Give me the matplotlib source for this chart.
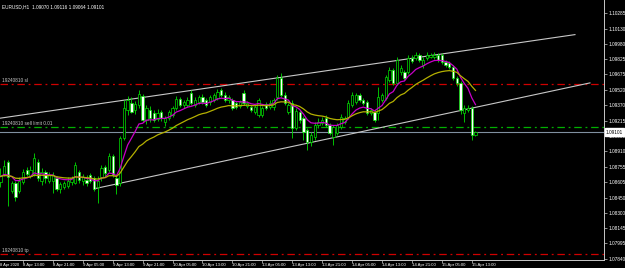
import numpy as np
import pandas as pd
import matplotlib
matplotlib.use("Agg")
import matplotlib.pyplot as plt
from matplotlib.transforms import blended_transform_factory

# EURUSD H1 bars, 8 Apr 2020 07:00 -> 15 Apr 2020 14:00 (weekend skipped)
opens = [1.0861, 1.0867, 1.0880, 1.0852, 1.0860, 1.0852, 1.0861, 1.0872, 1.0866, 1.0868,
         1.0880, 1.0862, 1.0870, 1.0862, 1.0862, 1.0864, 1.0854, 1.0856, 1.0857, 1.0861,
         1.0860, 1.0870, 1.0862, 1.0863, 1.0867, 1.0864, 1.0856, 1.0865, 1.0875, 1.0872,
         1.0886, 1.0864, 1.0860, 1.0904, 1.0932, 1.0939, 1.0932, 1.0937, 1.0946, 1.0922,
         1.0932, 1.0929, 1.0923, 1.0930, 1.0920, 1.0924, 1.0927, 1.0934, 1.0943, 1.0937,
         1.0937, 1.0949, 1.0937, 1.0940, 1.0945, 1.0942, 1.0940, 1.0942, 1.0944, 1.0952,
         1.0947, 1.0942, 1.0942, 1.0939, 1.0936, 1.0949, 1.0936, 1.0935, 1.0930, 1.0927,
         1.0927, 1.0938, 1.0935, 1.0935, 1.0945, 1.0964, 1.0947, 1.0930, 1.0939, 1.0914,
         1.0930, 1.0924, 1.0912, 1.0900, 1.0905, 1.0917, 1.0919, 1.0924, 1.0917, 1.0905,
         1.0909, 1.0915, 1.0920, 1.0925, 1.0937, 1.0940, 1.0947, 1.0942, 1.0940, 1.0929,
         1.0930, 1.0929, 1.0942, 1.0944, 1.0962, 1.0972, 1.0959, 1.0970, 1.0970, 1.0970,
         1.0984, 1.0984, 1.0987, 1.0977, 1.0984, 1.0985, 1.0985, 1.0987, 1.0987, 1.0980,
         1.0979, 1.0975, 1.0964, 1.0959, 1.0929, 1.0932, 1.0934, 1.0907]
highs = [1.0874, 1.0882, 1.0882, 1.0862, 1.0862, 1.0865, 1.0873, 1.0875, 1.0876, 1.0889,
         1.0883, 1.0874, 1.0872, 1.0870, 1.0870, 1.0866, 1.0861, 1.0862, 1.0865, 1.0866,
         1.0880, 1.0872, 1.0868, 1.0867, 1.0869, 1.0866, 1.0866, 1.0877, 1.0877, 1.0889,
         1.0888, 1.0866, 1.0906, 1.0942, 1.0946, 1.0945, 1.0941, 1.0952, 1.0948, 1.0937,
         1.0936, 1.0932, 1.0933, 1.0932, 1.0926, 1.0932, 1.0936, 1.0946, 1.0945, 1.0942,
         1.0945, 1.0952, 1.0945, 1.0947, 1.0948, 1.0944, 1.0947, 1.0949, 1.0953, 1.0954,
         1.0950, 1.0947, 1.0944, 1.0941, 1.0942, 1.0952, 1.0941, 1.0937, 1.0937, 1.0944,
         1.0936, 1.0940, 1.0942, 1.0944, 1.0967, 1.0969, 1.0950, 1.0939, 1.0942, 1.0934,
         1.0932, 1.0926, 1.0914, 1.0910, 1.0920, 1.0924, 1.0925, 1.0927, 1.0919, 1.0917,
         1.0919, 1.0928, 1.0926, 1.0942, 1.0950, 1.0949, 1.0949, 1.0944, 1.0942, 1.0934,
         1.0932, 1.0955, 1.0949, 1.0967, 1.0975, 1.0974, 1.0985, 1.0977, 1.0972, 1.0987,
         1.0987, 1.0990, 1.0989, 1.0985, 1.0990, 1.0989, 1.0990, 1.0989, 1.0989, 1.0982,
         1.0981, 1.0977, 1.0966, 1.0961, 1.0937, 1.0937, 1.0936, 1.09116]
lows = [1.0856, 1.0866, 1.0837, 1.0850, 1.0842, 1.0850, 1.0859, 1.0866, 1.0864, 1.0866,
        1.0862, 1.0858, 1.0860, 1.0860, 1.0850, 1.0852, 1.0850, 1.0854, 1.0855, 1.0858,
        1.0859, 1.0860, 1.0858, 1.0857, 1.0860, 1.0852, 1.0840, 1.0862, 1.0866, 1.0870,
        1.0865, 1.0849, 1.0857, 1.0902, 1.0927, 1.0929, 1.0928, 1.0934, 1.0920, 1.0918,
        1.0920, 1.0920, 1.0921, 1.0921, 1.0916, 1.0922, 1.0925, 1.0932, 1.0935, 1.0934,
        1.0935, 1.0937, 1.0935, 1.0938, 1.0938, 1.0935, 1.0937, 1.0940, 1.0942, 1.0945,
        1.0940, 1.0939, 1.0932, 1.0933, 1.0934, 1.0937, 1.0934, 1.0930, 1.0928, 1.0925,
        1.0925, 1.0932, 1.0933, 1.0932, 1.0942, 1.0945, 1.0937, 1.0928, 1.0904, 1.0912,
        1.0919, 1.0902, 1.0892, 1.0896, 1.0902, 1.0914, 1.0917, 1.0915, 1.0907, 1.0897,
        1.0907, 1.0913, 1.0918, 1.0923, 1.0935, 1.0938, 1.0940, 1.0937, 1.0927, 1.0927,
        1.0920, 1.0922, 1.0940, 1.0942, 1.0960, 1.0957, 1.0957, 1.0967, 1.0962, 1.0968,
        1.0979, 1.0982, 1.0980, 1.0974, 1.0982, 1.0984, 1.0983, 1.0980, 1.0978, 1.0975,
        1.0973, 1.0962, 1.0956, 1.0928, 1.0920, 1.0930, 1.0902, 1.09064]
closes = [1.0866, 1.0876, 1.0865, 1.0860, 1.0846, 1.0862, 1.0870, 1.0868, 1.0872, 1.0884,
          1.0864, 1.0870, 1.0864, 1.0867, 1.0867, 1.0854, 1.0859, 1.0860, 1.0862, 1.0864,
          1.0877, 1.0863, 1.0865, 1.0860, 1.0862, 1.0854, 1.0862, 1.0874, 1.0869, 1.0886,
          1.0867, 1.0858, 1.0904, 1.0934, 1.0942, 1.0930, 1.0938, 1.0948, 1.0922, 1.0934,
          1.0924, 1.0922, 1.0929, 1.0924, 1.0924, 1.0930, 1.0934, 1.0943, 1.0937, 1.0940,
          1.0942, 1.0939, 1.0942, 1.0945, 1.0940, 1.0937, 1.0945, 1.0947, 1.0950, 1.0947,
          1.0942, 1.0945, 1.0934, 1.0935, 1.0940, 1.0939, 1.0939, 1.0932, 1.0935, 1.0942,
          1.0934, 1.0934, 1.0939, 1.0942, 1.0964, 1.0947, 1.0939, 1.0937, 1.0914, 1.0931,
          1.0922, 1.0910, 1.0900, 1.0907, 1.0917, 1.0920, 1.0922, 1.0917, 1.0909, 1.0915,
          1.0917, 1.0925, 1.0924, 1.0939, 1.0947, 1.0947, 1.0942, 1.0939, 1.0929, 1.0932,
          1.0922, 1.0945, 1.0947, 1.0965, 1.0972, 1.0959, 1.0982, 1.0974, 1.0964, 1.0984,
          1.0981, 1.0987, 1.0982, 1.0982, 1.0987, 1.0987, 1.0987, 1.0982, 1.0980, 1.0977,
          1.0975, 1.0964, 1.0959, 1.0932, 1.0934, 1.0934, 1.0907, 1.09101]

# order levels (sell limit with stop loss / take profit) and bid
sl_price = 1.0958
limit_price = 1.0915
tp_price = 1.0789
bid_price = 1.09101
order_id = "19240810"

# channel trendlines: (bar index, price) anchors
upper_bars = [0, 153.6]
upper_prices = [1.0924, 1.1007]
lower_bars = [25.3, 157.6]
lower_prices = [1.0854, 1.0959]

price_ticks = [1.10285, 1.10130, 1.09980, 1.09825, 1.09675, 1.09520, 1.09370, 1.09215,
               1.09065, 1.08910, 1.08755, 1.08605, 1.08450, 1.08300, 1.08145, 1.07995, 1.07840]

times = list(pd.date_range("2020-04-08 07:00", "2020-04-10 23:00", freq="h")) + \
        list(pd.date_range("2020-04-13 00:00", "2020-04-15 14:00", freq="h"))

o = np.array(opens)
h = np.array(highs)
l = np.array(lows)
c = np.array(closes)
x = np.arange(len(c))

ma_fast = pd.Series(c).ewm(span=9, adjust=False).mean()
ma_slow = pd.Series(c).ewm(span=21, adjust=False).mean()

fig = plt.figure(figsize=(6.25, 2.68), dpi=100, facecolor="black")
ax = fig.add_axes([0, 8 / 268, 604 / 625, 260 / 268], facecolor="black")
font = "Liberation Sans"
fs = 3.4
fs_x = 3.1
txt = "#c8c8c8"
green = "#00e000"

# candles
ax.vlines(x, l, h, color=green, lw=0.6, zorder=3)
up = c >= o
body = np.maximum(np.abs(c - o), 0.00003)
ax.bar(x, body, bottom=np.minimum(o, c), width=0.62,
       color=np.where(up, "black", "white"), edgecolor=green, linewidth=0.5, zorder=4)

# moving averages
ax.plot(x, ma_fast, color="#c800c8", lw=0.9, zorder=5)
ax.plot(x, ma_slow, color="#b4b000", lw=0.9, zorder=5)

# channel
ax.plot(upper_bars, upper_prices, color="#c8c8c8", lw=0.8, zorder=2)
ax.plot(lower_bars, lower_prices, color="#c8c8c8", lw=0.8, zorder=2)

# order lines
dashdot = (0, (6, 3, 1.5, 3))
ax.axhline(sl_price, color="#d00000", lw=0.9, ls=dashdot, zorder=1)
ax.axhline(limit_price, color="#00b000", lw=0.9, ls=dashdot, zorder=1)
ax.axhline(tp_price, color="#d00000", lw=0.9, ls=dashdot, zorder=1)
ax.axhline(bid_price, color="#8090a0", lw=0.8, zorder=1)
for lvl, name in [(sl_price, "sl"), (limit_price, "sell limit 0.01"), (tp_price, "tp")]:
    ax.text(0.3, lvl + 0.0001, f"{order_id} {name}", color=txt, fontsize=fs,
            family=font, va="bottom", ha="left")

ax.set_xlim(-0.13, 161.36)
ax.set_ylim(1.07830, 1.10414)

# price axis
ax.yaxis.tick_right()
ax.set_yticks(price_ticks)
ax.set_yticklabels([f"{p:.5f}" for p in price_ticks], family=font)
ax.tick_params(axis="y", colors="#c8c8c8", labelcolor="white", labelsize=fs,
               length=2, width=0.5, pad=1)

# time axis
lab_idx = list(range(6, len(times), 8))
ax.set_xticks(lab_idx)
ax.set_xticklabels([f"{times[i].day} Apr {times[i]:%H:%M}" for i in lab_idx],
                   ha="left", family=font)
ax.tick_params(axis="x", colors="#c8c8c8", labelcolor="white", labelsize=fs_x,
               length=2, width=0.5, pad=0.5)
ax.text(0.0005, -0.012, "8 Apr 2020", color="white", fontsize=2.9, family=font,
        transform=ax.transAxes, va="top", ha="left")

for s in ["top", "left"]:
    ax.spines[s].set_visible(False)
for s in ["right", "bottom"]:
    ax.spines[s].set_color("#c8c8c8")
    ax.spines[s].set_linewidth(0.7)

# current price box
trb = blended_transform_factory(ax.transAxes, ax.transData)
ax.text(1.003, bid_price, f"{bid_price:.5f}", color="black", fontsize=fs, family=font,
        transform=trb, va="center", ha="left", zorder=10, clip_on=False,
        bbox=dict(facecolor="white", edgecolor="white", pad=0.8))

# header
ax.text(0.003, 0.985, f"EURUSD,H1  {opens[-1]:.5f} {highs[-1]:.5f} {lows[-1]:.5f} {closes[-1]:.5f}",
        color="white", fontsize=fs, family=font, transform=ax.transAxes, va="top", ha="left")

fig.savefig("out.png", dpi=100, facecolor="black")
